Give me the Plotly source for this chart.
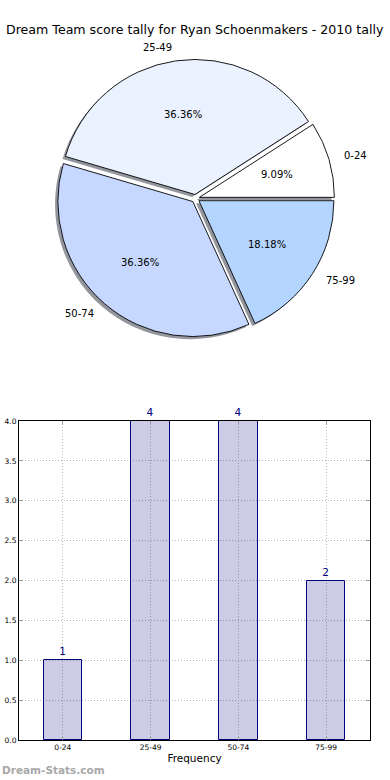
import math
import plotly.graph_objects as go

# ---------------- data ----------------
categories = ["0-24", "25-49", "50-74", "75-99"]
counts = [1, 4, 4, 2]
pie_colors = ["#ffffff", "#eaf1ff", "#c6d8ff", "#b3d5ff"]
explode = [0.03, 0.03, 0.03, 0.03]
y_ticks = [0.0, 0.5, 1.0, 1.5, 2.0, 2.5, 3.0, 3.5, 4.0]
title_text = "Dream Team score tally for Ryan Schoenmakers - 2010 tally"
x_title = "Frequency"
watermark = "Dream-Stats.com"

# ---------------- geometry (pixels) ----------------
W, H = 390, 780
FONT = "DejaVu Sans"
PIE_CX, PIE_CY, PIE_R = 195.5, 198.5, 135.0
SHADOW_DX, SHADOW_DY = -2.8, 2.6
maxpull = max(explode)
total = sum(counts)
# first slice starts at 3 o'clock and the pie runs counterclockwise
# (plotly puts the END of the first ccw slice at `rotation`)
start_rotation = 90 - 360.0 * counts[0] / total


def px_to_paper(x, y):
    return x / W, 1 - y / H


def pie_domain(cx, cy):
    half = PIE_R * (1 + maxpull)
    x0, y1 = px_to_paper(cx - half, cy - half)
    x1, y0 = px_to_paper(cx + half, cy + half)
    return dict(x=[x0, x1], y=[y0, y1])


common = dict(labels=categories, values=counts, sort=False,
              direction="counterclockwise", rotation=start_rotation, pull=explode,
              textinfo="none", hoverinfo="label+percent", showlegend=False)

fig = go.Figure()
# shadow
fig.add_trace(go.Pie(**common,
                     marker=dict(colors=["rgba(60,64,77,0.55)"] * len(counts),
                                 line=dict(width=0)),
                     domain=pie_domain(PIE_CX + SHADOW_DX, PIE_CY + SHADOW_DY)))
# main pie
fig.add_trace(go.Pie(**common,
                     marker=dict(colors=pie_colors, line=dict(color="black", width=0.9)),
                     domain=pie_domain(PIE_CX, PIE_CY)))

# labels / percentages placed along slice bisectors
annotations = []
cum = 0
for cat, v, p in zip(categories, counts, explode):
    mid = math.radians(360.0 * (cum + v / 2) / total)
    cum += v
    ux, uy = math.cos(mid), -math.sin(mid)
    cx = PIE_CX + p * PIE_R * ux
    cy = PIE_CY + p * PIE_R * uy
    x, y = px_to_paper(cx + 0.6 * PIE_R * ux, cy + 0.6 * PIE_R * uy)
    annotations.append(dict(x=x, y=y, xref="paper", yref="paper", showarrow=False,
                            text=f"{100.0 * v / total:.2f}%",
                            font=dict(family=FONT, size=10, color="black"),
                            xanchor="center", yanchor="middle"))
    x, y = px_to_paper(cx + 1.1 * PIE_R * ux, cy + 1.1 * PIE_R * uy)
    annotations.append(dict(x=x, y=y, xref="paper", yref="paper", showarrow=False,
                            text=cat, font=dict(family=FONT, size=10, color="black"),
                            xanchor="left" if ux > 0 else "right", yanchor="middle"))

# title
tx, ty = px_to_paper(195, 30)
annotations.append(dict(x=tx, y=ty, xref="paper", yref="paper", showarrow=False,
                        text=title_text, xanchor="center", yanchor="middle",
                        font=dict(family=FONT, size=12.6, color="black")))

# ---------------- bar chart ----------------
fig.add_trace(go.Bar(x=categories, y=counts, width=0.44,
                     marker=dict(color="rgba(0,0,128,0.2)",
                                 line=dict(color="#000080", width=1)),
                     text=[str(c) for c in counts], textposition="outside",
                     textfont=dict(family=FONT, size=10.5, color="#000080"),
                     cliponaxis=False, showlegend=False, xaxis="x", yaxis="y"))

wx, wy = px_to_paper(0, 770)
annotations.append(dict(x=wx, y=wy, xref="paper", yref="paper",
                        showarrow=False, text="<b>" + watermark + "</b>",
                        font=dict(family=FONT, size=10.5, color="#a8a8a8"),
                        xanchor="left", yanchor="middle"))

axis_common = dict(showgrid=True, gridcolor="#b8b8b8", griddash="1px,2px", gridwidth=1,
                   showline=True, linecolor="black", linewidth=1, mirror="ticks",
                   ticks="inside", ticklen=4, tickcolor="#999999", zeroline=False,
                   automargin=False,
                   tickfont=dict(family=FONT, size=7.5, color="black"))

ax0, ay0 = px_to_paper(19, 740)
ax1, ay1 = px_to_paper(370, 421)

fig.update_layout(
    width=W, height=H,
    margin=dict(l=0, r=0, t=0, b=0, autoexpand=False),
    paper_bgcolor="white", plot_bgcolor="white",
    font=dict(family=FONT, color="black"),
    xaxis=dict(domain=[ax0, ax1], type="category", range=[-0.5, 3.5],
               title=dict(text=x_title, standoff=3,
                          font=dict(family=FONT, size=10.5, color="black")),
               **axis_common),
    yaxis=dict(domain=[ay0, ay1], range=[0, 4], tickvals=y_ticks,
               tickformat=".1f", **axis_common),
    annotations=annotations,
    bargap=0,
)

# remove the browser's default 8px page margin so the figure fills the window
fig.write_html("out.html",
               config={"displayModeBar": False},
               post_script="document.body.style.margin='0';"
                           "document.body.style.overflow='hidden';")
